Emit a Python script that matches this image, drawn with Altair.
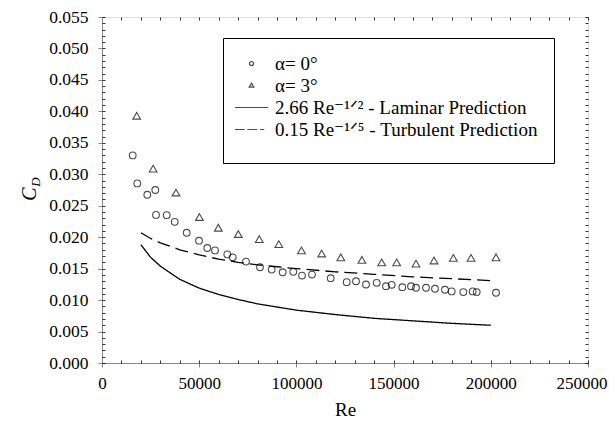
import altair as alt
import pandas as pd

# --- data ---
re_a0 = [15790, 18160, 23300, 27420, 27780, 33280, 37400, 43570, 49900, 54170,
         58130, 64460, 67230, 74070, 81280, 87290, 92950, 98410, 102880, 108020,
         117640, 125870, 130660, 135800, 141310, 146090, 149020, 154470, 158950,
         161520, 166670, 171290, 176440, 179880, 185850, 190690, 192750, 202680]
cd_a0 = [0.0330, 0.02855, 0.02675, 0.0275, 0.02354, 0.0235, 0.02244, 0.0207, 0.01944, 0.01828,
         0.0179, 0.01727, 0.0168, 0.01612, 0.01522, 0.01485, 0.01443, 0.01449, 0.0139, 0.01406,
         0.01348, 0.01285, 0.0130, 0.01248, 0.01275, 0.01221, 0.01243, 0.01205, 0.01221,
         0.01196, 0.01196, 0.0118, 0.01164, 0.01138, 0.01127, 0.01138, 0.01127, 0.01117]

re_a3 = [17850, 26300, 38070, 50100, 59830, 70120, 80920, 90950, 102600, 113000,
         122850, 133700, 143880, 151590, 161520, 170780, 180720, 189820, 202680]
cd_a3 = [0.0392, 0.0308, 0.0270, 0.0231, 0.0214, 0.0204, 0.0196, 0.0188, 0.0178, 0.0173,
         0.0167, 0.0163, 0.0159, 0.0159, 0.0157, 0.0162, 0.0166, 0.0166, 0.0167]

re_line = [20000, 25000, 30000, 40000, 50000, 60000, 70000, 80000, 90000, 100000,
           120000, 140000, 160000, 180000, 200000]
cd_laminar = [0.0188, 0.0168, 0.0154, 0.0133, 0.0119, 0.0109, 0.0101, 0.0094, 0.0089, 0.0084,
              0.0077, 0.0071, 0.0067, 0.0063, 0.0060]
cd_turbulent = [0.0207, 0.0198, 0.0191, 0.0180, 0.0172, 0.0165, 0.0160, 0.0156, 0.0153, 0.0150,
                0.0145, 0.0141, 0.0137, 0.0134, 0.0131]

x_ticks = [0, 50000, 100000, 150000, 200000, 250000]
y_ticks = [0.000, 0.005, 0.010, 0.015, 0.020, 0.025, 0.030, 0.035, 0.040, 0.045, 0.050, 0.055]
x_minor = [i * 10000 for i in range(26)]
y_minor = [round(i * 0.001, 3) for i in range(56)]

NB = "\u00a0"
lab_a0 = NB * 2 + "α= 0°"
lab_a3 = NB * 2 + "α= 3°"
lab_lam = "2.66 Re⁻¹ᐟ² - Laminar Prediction"
lab_tur = "0.15 Re⁻¹ᐟ⁵ - Turbulent Prediction"
series_names = [lab_a0, lab_a3, lab_lam, lab_tur]

pts = pd.DataFrame({
    "Re": re_a0 + re_a3,
    "CD": cd_a0 + cd_a3,
    "series": [lab_a0] * len(re_a0) + [lab_a3] * len(re_a3),
})
lines = pd.DataFrame({
    "Re": re_line + re_line,
    "CD": cd_laminar + cd_turbulent,
    "series": [lab_lam] * len(re_line) + [lab_tur] * len(re_line),
})

FONT = "'Liberation Serif', 'Times New Roman', 'DejaVu Serif', serif"
XS = alt.Scale(domain=[0, 250000], nice=False)
YS = alt.Scale(domain=[0, 0.055], nice=False)

circle_path = "M-0.27,0A0.27,0.27,0,1,1,0.27,0A0.27,0.27,0,1,1,-0.27,0Z"
tri_path = "M0,-0.32L0.31,0.22L-0.31,0.22Z"
solid_path = "M-2.2,0H2.2"
dash_path = "M-2.2,0H-0.9M-0.55,0H0.75M1.15,0H1.7"

last_x = "datum.value == 250000"
x_enc = alt.X("Re:Q", scale=XS,
              axis=alt.Axis(values=x_ticks, format="d", title="Re", titleFont=FONT,
                            titleFontSize=19, titleFontWeight="normal", titlePadding=9,
                            labelFont=FONT, labelFontSize=17, labelPadding=8,
                            labelFlush=False, labelOverlap=False, tickSize=4,
                            labelAlign={"condition": {"test": last_x, "value": "right"},
                                        "value": "center"},
                            labelOffset={"condition": {"test": last_x, "value": 19},
                                         "value": 0},
                            orient="bottom"))
y_enc = alt.Y("CD:Q", scale=YS,
              axis=alt.Axis(values=y_ticks, format=".3f", title=None,
                            labelFont=FONT, labelFontSize=17.5, labelPadding=10,
                            labelOverlap=False, tickSize=4, orient="left"))

points = alt.Chart(pts).mark_point(filled=False, size=620, strokeWidth=1.1, color="black").encode(
    x=x_enc,
    y=y_enc,
    shape=alt.Shape("series:N", sort=None,
                    scale=alt.Scale(domain=series_names,
                                    range=[circle_path, tri_path, solid_path, dash_path]),
                    legend=alt.Legend(title=NB, titleOrient="bottom", titleFontSize=4,
                                      titlePadding=3,
                                      orient="none", legendX=121, legendY=21,
                                      padding=16, fillColor="white", strokeColor="black",
                                      labelFont=FONT, labelFontSize=19, labelLimit=500,
                                      labelColor="black",
                                      symbolSize=225, symbolStrokeWidth=1.2,
                                      symbolStrokeColor="black", symbolOffset=3,
                                      labelOffset=14, rowPadding=2)),
)

curves = alt.Chart(lines).mark_line(color="black", strokeWidth=1.3).encode(
    x=alt.X("Re:Q", scale=XS, axis=None),
    y=alt.Y("CD:Q", scale=YS, axis=None),
    strokeDash=alt.StrokeDash("series:N", sort=None,
                              scale=alt.Scale(domain=[lab_lam, lab_tur], range=[[1, 0], [13, 6]]),
                              legend=None),
)

def minor_axis(orient, values):
    return alt.Axis(values=values, orient=orient, labels=False, domain=False, title=None,
                    tickSize=3, offset=-3, tickColor="black", tickWidth=0.8)

frame_ticks_tr = alt.Chart(lines).mark_point(opacity=0).encode(
    x=alt.X("Re:Q", scale=XS, axis=minor_axis("top", x_minor)),
    y=alt.Y("CD:Q", scale=YS, axis=minor_axis("right", y_minor)),
)
frame_ticks_bl = alt.Chart(lines).mark_point(opacity=0).encode(
    x=alt.X("Re:Q", scale=XS, axis=minor_axis("bottom", x_minor)),
    y=alt.Y("CD:Q", scale=YS, axis=minor_axis("left", y_minor)),
)

one = pd.DataFrame({"k": [0]})
title_c = alt.Chart(one).mark_text(font=FONT, fontSize=20, fontStyle="italic", angle=270,
                                   color="black").encode(
    x=alt.value(-72), y=alt.value(177), text=alt.value("C"))
title_d = alt.Chart(one).mark_text(font=FONT, fontSize=13, fontStyle="italic", angle=270,
                                   color="black").encode(
    x=alt.value(-66), y=alt.value(165), text=alt.value("D"))

chart = alt.layer(curves, points, frame_ticks_tr, frame_ticks_bl, title_c, title_d).resolve_axis(
    x="independent", y="independent"
).properties(
    width=486, height=346,
    autosize=alt.AutoSizeParams(type="none"),
    padding={"left": 94, "top": 9, "right": 20, "bottom": 66},
).configure_view(stroke="black", strokeWidth=1).configure_axis(
    labelFont=FONT, labelColor="black", tickColor="black", domainColor="black",
    grid=False, titleColor="black",
).configure(background="white")

chart.save("out.html", embed_options={"renderer": "svg", "actions": False})
